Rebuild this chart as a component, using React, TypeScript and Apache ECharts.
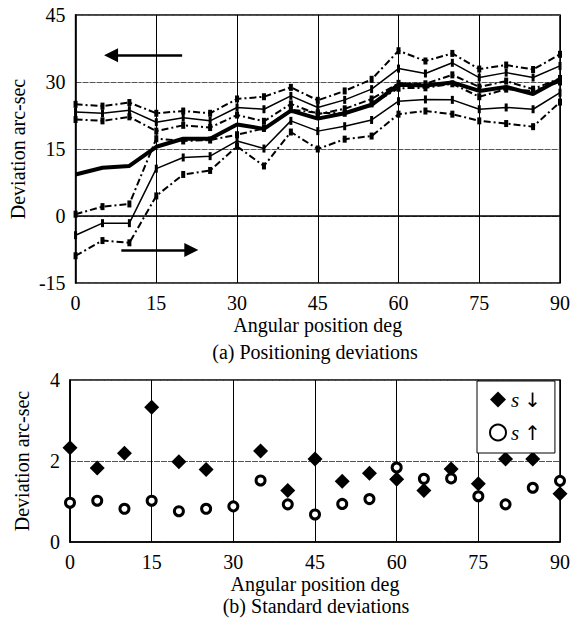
import React, { useEffect, useRef } from "react";
import * as echarts from "echarts";

// Angular positions (deg)
const angles = [0, 5, 10, 15, 20, 25, 30, 35, 40, 45, 50, 55, 60, 65, 70, 75, 80, 85, 90];

// (a) Positioning deviations, arc-sec
const upUpper = [25.0, 24.6, 25.4, 23.0, 23.5, 23.0, 26.2, 26.7, 28.8, 25.9, 28.0, 30.6, 37.0, 34.7, 36.4, 32.9, 33.8, 32.8, 36.2];
const upMean = [23.3, 23.0, 23.7, 21.0, 22.0, 21.3, 24.3, 23.9, 26.9, 24.3, 26.0, 28.4, 33.0, 31.9, 34.3, 31.0, 32.1, 31.0, 33.6];
const upLower = [21.6, 21.3, 22.2, 19.0, 20.3, 19.8, 22.6, 21.2, 25.1, 22.8, 24.0, 26.2, 29.7, 29.6, 31.6, 28.9, 30.2, 28.4, 30.8];
const downUpper = [0.4, 2.1, 2.7, 17.3, 16.8, 17.0, 18.2, 19.6, 23.8, 23.1, 23.0, 25.1, 28.6, 28.7, 29.6, 26.7, 28.4, 28.0, 30.0];
const downMean = [-4.3, -1.6, -1.6, 10.6, 13.1, 13.4, 16.8, 15.1, 21.3, 19.0, 20.1, 21.5, 25.7, 26.1, 26.0, 23.9, 24.3, 23.9, 27.6];
const downLower = [-8.9, -5.5, -6.0, 4.5, 9.3, 10.2, 15.6, 11.2, 18.8, 15.0, 17.2, 17.9, 22.8, 23.5, 22.8, 21.3, 20.7, 20.0, 25.5];
const overallMean = [9.3, 10.8, 11.2, 15.5, 17.3, 17.3, 20.5, 19.5, 23.6, 21.8, 23.0, 24.9, 29.4, 29.2, 29.9, 28.0, 28.9, 27.3, 30.6];

// (b) Standard deviations, arc-sec
const sDown = [2.33, 1.83, 2.19, 3.33, 1.98, 1.79, null, 2.25, 1.27, 2.05, 1.5, 1.7, 1.55, 1.27, 1.8, 1.44, 2.05, 2.05, 1.19];
const sUp = [0.97, 1.02, 0.82, 1.02, 0.76, 0.82, 0.88, 1.52, 0.93, 0.68, 0.94, 1.06, 1.84, 1.56, 1.57, 1.13, 0.93, 1.34, 1.51];

const topYTicks = { min: -15, max: 45, interval: 15 };
const botYTicks = { min: 0, max: 4, interval: 2 };
const xTicks = { min: 0, max: 90, interval: 15 };

const FONT = "'Liberation Serif', 'Times New Roman', serif";

const pairs = (vals: (number | null)[]) => angles.map((a, i) => [a, vals[i]]);

export default function App() {
  const ref = useRef<HTMLDivElement>(null);
  useEffect(() => {
    if (!ref.current) return;
    const chart = echarts.init(ref.current, null, { renderer: "svg" });
    const axisLabel = { fontFamily: FONT, fontSize: 20, color: "#000" };
    const xAxisBase = (gridIndex: number, gap: number) => ({
      type: "value",
      gridIndex,
      ...xTicks,
      name: "Angular position deg",
      nameLocation: "middle",
      nameGap: gap,
      nameTextStyle: { fontFamily: FONT, fontSize: 20, color: "#000" },
      axisLine: { show: true, lineStyle: { color: "#000", width: 1.5 } },
      axisTick: { show: false },
      axisLabel: { ...axisLabel, margin: 10 },
      splitLine: { show: true, lineStyle: { color: "#000", width: 1 } },
    });
    const yAxisBase = (gridIndex: number, ticks: any) => ({
      type: "value",
      gridIndex,
      ...ticks,
      name: "Deviation arc-sec",
      nameLocation: "middle",
      nameGap: 38,
      nameTextStyle: { fontFamily: FONT, fontSize: 20, color: "#000" },
      axisLine: { show: true, lineStyle: { color: "#000", width: 1.5 } },
      axisTick: { show: false },
      axisLabel: { ...axisLabel, margin: 10 },
      splitLine: { show: true, lineStyle: { color: "#555", width: 1, type: [6, 1] } },
    });
    const dashDot = { color: "#000", width: 2, type: [7, 3, 2, 3] };
    const bandLine = (name: string, vals: number[], dashed: boolean) => ({
      name,
      type: "line",
      xAxisIndex: 0,
      yAxisIndex: 0,
      data: pairs(vals),
      symbol: "rect",
      symbolSize: dashed ? [4, 7] : [3, 8],
      itemStyle: { color: "#000" },
      lineStyle: dashed ? dashDot : { color: "#000", width: 1.5 },
      silent: true,
      z: 3,
    });

    chart.setOption({
      animation: false,
      backgroundColor: "#fff",
      grid: [
        { left: 68, right: 11, top: 15, height: 268, show: true, borderColor: "#000", borderWidth: 1.5 },
        { left: 70, right: 11, top: 380, height: 162, show: true, borderColor: "#000", borderWidth: 1.5 },
      ],
      xAxis: [xAxisBase(0, 32), xAxisBase(1, 32)],
      yAxis: [yAxisBase(0, topYTicks), yAxisBase(1, botYTicks)],
      legend: {
        data: ["s↓", "s↑"],
        left: 477,
        top: 381,
        orient: "vertical",
        itemGap: 12,
        itemWidth: 16,
        itemHeight: 16,
        padding: [8, 14, 10, 12],
        backgroundColor: "#fff",
        borderColor: "#000",
        borderWidth: 1,
        borderRadius: 0,
        selectedMode: false,
        formatter: (n: string) => (n === "s↓" ? "{i|s} {a|↓}" : "{i|s} {a|↑}"),
        textStyle: {
          fontFamily: FONT,
          fontSize: 20,
          color: "#000",
          rich: {
            i: { fontFamily: FONT, fontStyle: "italic", fontSize: 21, color: "#000" },
            a: { fontFamily: "'DejaVu Sans', sans-serif", fontSize: 20, color: "#000" },
          },
        },
      },
      graphic: [
        {
          type: "text",
          x: 315,
          y: 352,
          style: {
            text: "(a) Positioning deviations",
            font: `20px ${FONT}`,
            fill: "#000",
            textAlign: "center",
            textVerticalAlign: "middle",
          },
        },
        {
          type: "text",
          x: 316,
          y: 606,
          style: {
            text: "(b) Standard deviations",
            font: `20px ${FONT}`,
            fill: "#000",
            textAlign: "center",
            textVerticalAlign: "middle",
          },
        },
      ],
      series: [
        bandLine("upUpper", upUpper, true),
        bandLine("upMean", upMean, false),
        bandLine("upLower", upLower, true),
        bandLine("downUpper", downUpper, true),
        bandLine("downMean", downMean, false),
        bandLine("downLower", downLower, true),
        {
          name: "mean",
          type: "line",
          xAxisIndex: 0,
          yAxisIndex: 0,
          data: pairs(overallMean),
          symbol: "none",
          lineStyle: { color: "#000", width: 4 },
          silent: true,
          z: 4,
          markLine: {
            silent: true,
            symbol: ["none", "triangle"],
            symbolSize: [14, 14],
            label: { show: false },
            lineStyle: { color: "#000", width: 2.5, type: "solid" },
            data: [
              [{ coord: [19.8, 36] }, { coord: [6.6, 36] }],
              [{ coord: [8.5, -7.6] }, { coord: [21.5, -7.6] }],
            ],
          },
        },
        {
          name: "s↓",
          type: "scatter",
          xAxisIndex: 1,
          yAxisIndex: 1,
          data: pairs(sDown),
          symbol: "diamond",
          symbolSize: 15,
          itemStyle: { color: "#000", opacity: 1 },
          silent: true,
          z: 3,
        },
        {
          name: "s↑",
          type: "scatter",
          xAxisIndex: 1,
          yAxisIndex: 1,
          data: pairs(sUp),
          symbol: "circle",
          symbolSize: 9,
          itemStyle: { color: "#fff", borderColor: "#000", borderWidth: 3, opacity: 1 },
          silent: true,
          z: 4,
        },
      ],
    });
    return () => chart.dispose();
  }, []);
  return (
    <div
      ref={ref}
      style={{ position: "fixed", left: 0, top: 0, width: 573, height: 626, background: "#fff" }}
    />
  );
}
